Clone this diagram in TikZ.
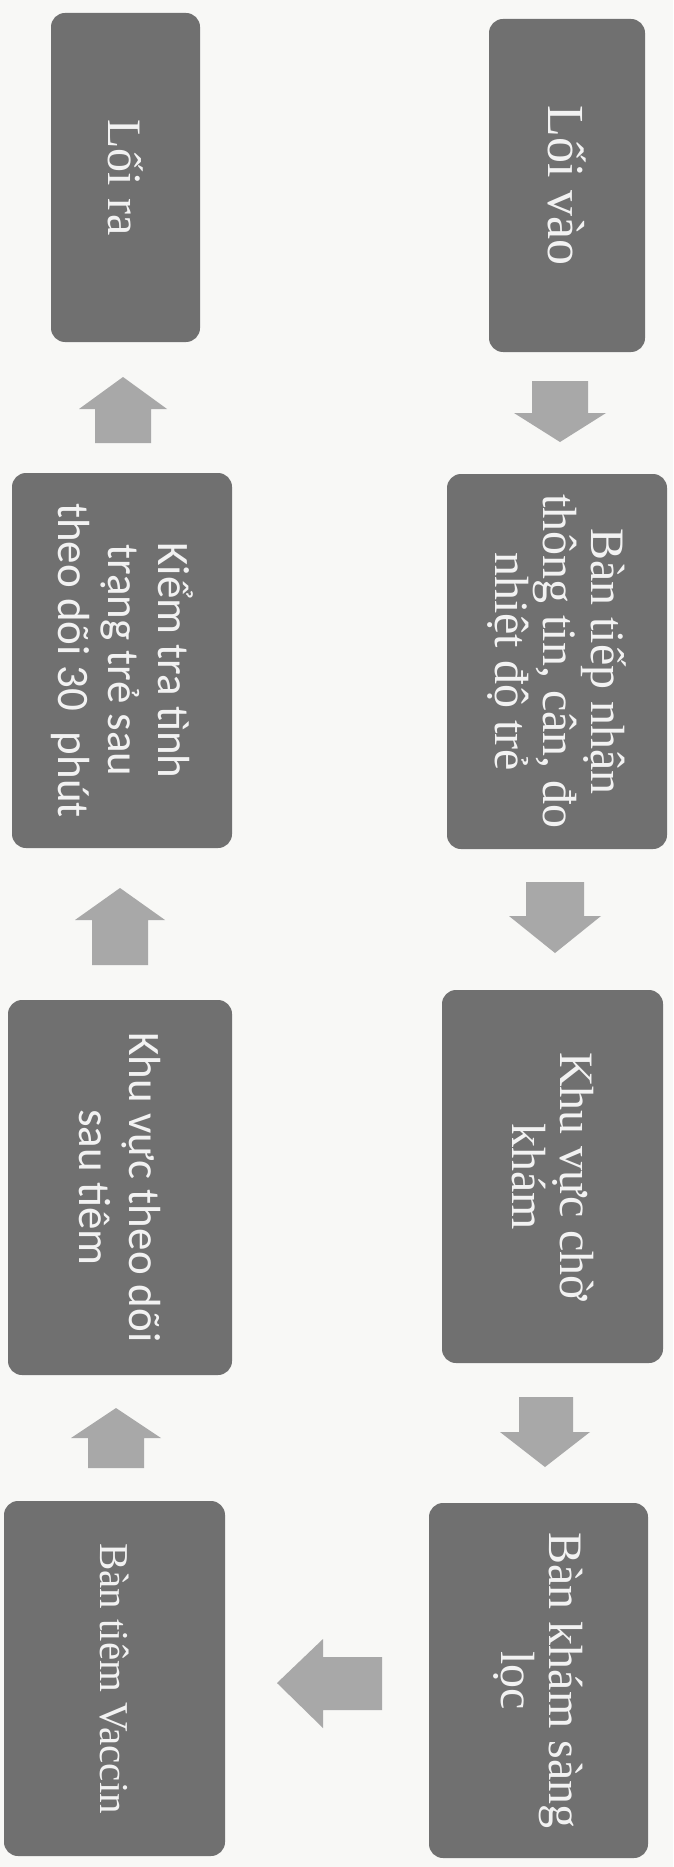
\documentclass[tikz,border=0pt]{standalone}
\usepackage{fontspec}
\setmainfont{Liberation Serif}
\newfontfamily\sansf{Carlito}
\definecolor{paper}{RGB}{248,248,246}
\definecolor{boxgray}{RGB}{112,112,112}
\definecolor{arrgray}{RGB}{168,168,168}
\definecolor{txt}{RGB}{242,242,242}
\tikzset{
  stepbox/.style={fill=boxgray, rounded corners=14pt, text=txt, align=center,
    rotate=-90, inner sep=0pt, anchor=center},
  serifbig/.style={font=\fontsize{48}{48}\selectfont},
  sansbig/.style={font=\sansf\fontsize{45}{50}\selectfont},
  blockarrow/.style={fill=arrgray, draw=none}
}
\begin{document}
\begin{tikzpicture}[x=1pt,y=-1pt]
\fill[paper] (0,0) rectangle (673,1867);
\useasboundingbox (0,0) rectangle (673,1867);
% right column (boxes: minimum width = screen height, minimum height = screen width)
\node[stepbox, minimum width=333pt, minimum height=156pt, font=\fontsize{52}{52}\selectfont] (vao) at (567,185.5) {Lối vào};
\node[stepbox, serifbig, minimum width=375pt, minimum height=220pt] (tiepnhan) at (557,661.5) {Bàn tiếp nhận\\thông tin, cân, đo\\nhiệt độ trẻ};
\node[stepbox, serifbig, minimum width=373pt, minimum height=221pt] (cho) at (552.5,1176.5) {Khu vực chờ\\khám};
\node[stepbox, serifbig, minimum width=355pt, minimum height=219pt] (kham) at (538.5,1680.5) {Bàn khám sàng\\lọc};
% left column
\node[stepbox, minimum width=355pt, minimum height=221pt, font=\fontsize{41}{48}\selectfont] (tiem) at (114.5,1678.5) {Bàn tiêm Vaccin};
\node[stepbox, sansbig, minimum width=375pt, minimum height=224pt] (theodoi) at (120,1187.5) {Khu vực theo dõi\\sau tiêm};
\node[stepbox, sansbig, minimum width=375pt, minimum height=220pt] (kiemtra) at (122,660.5) {Kiểm tra tình\\trạng trẻ sau\\theo dõi 30\ \ phút};
\node[stepbox, minimum width=329pt, minimum height=149pt, font=\fontsize{48}{50}\selectfont] (ra) at (125.5,177.5) {Lối ra};
% down arrows (right column)
\fill[blockarrow] (532,381) -- (588,381) -- (588,413) -- (606,413) -- (560,442) -- (514,413) -- (532,413) -- cycle;
\fill[blockarrow] (526,882) -- (584,882) -- (584,916) -- (601,916) -- (555,953) -- (509,916) -- (526,916) -- cycle;
\fill[blockarrow] (519,1397) -- (573,1397) -- (573,1432) -- (590,1432) -- (545,1467) -- (500,1432) -- (519,1432) -- cycle;
% left arrow
\fill[blockarrow] (382,1657) -- (382,1710) -- (323,1710) -- (323,1728) -- (277,1683) -- (323,1639) -- (323,1657) -- cycle;
% up arrows (left column)
\fill[blockarrow] (88,1468) -- (144,1468) -- (144,1438) -- (161,1438) -- (116,1408) -- (71,1438) -- (88,1438) -- cycle;
\fill[blockarrow] (92,965) -- (148,965) -- (148,920) -- (165,920) -- (120,888) -- (75,920) -- (92,920) -- cycle;
\fill[blockarrow] (95,443) -- (151,443) -- (151,409) -- (167,409) -- (123,377) -- (79,409) -- (95,409) -- cycle;
\end{tikzpicture}
\end{document}
